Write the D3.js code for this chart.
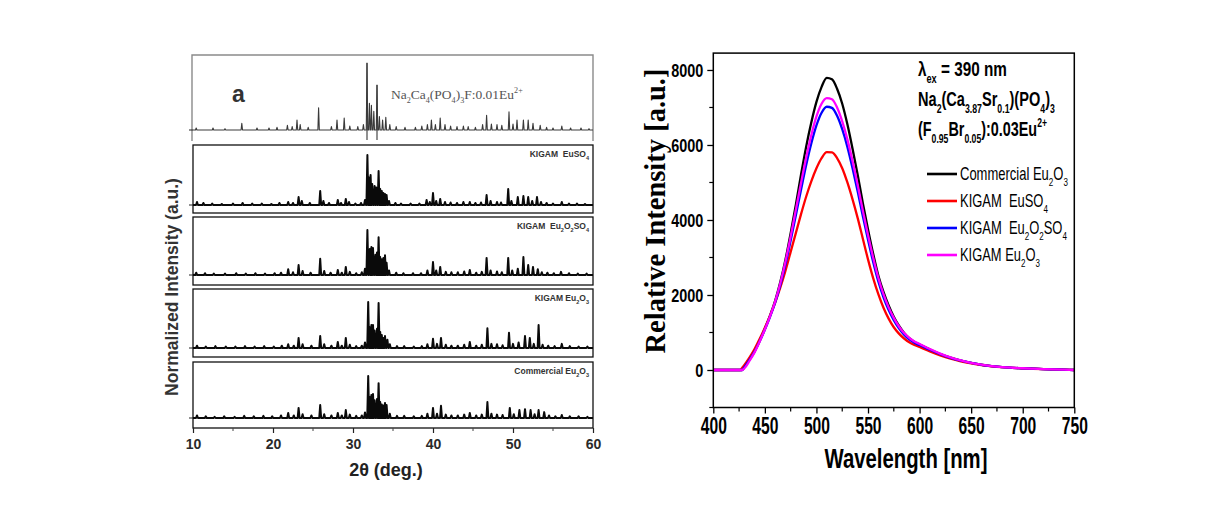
<!DOCTYPE html>
<html><head><meta charset="utf-8">
<script src="https://cdn.jsdelivr.net/npm/d3@7"></script>
<style>body{margin:0;background:#fff} svg{display:block} text{white-space:pre}</style>
</head><body>
<script>
// ---------------- DATA ----------------
// Left: XRD patterns, [2theta, relative height %]
const xrdTicks = [10, 20, 30, 40, 50, 60];
const xrdMinorTicks = [15, 25, 35, 45, 55];
const xrdLabels = ["Na_{2}Ca_{4}(PO_{4})_{3}F:0.01Eu^{2+}", "KIGAM  EuSO_{4}", "KIGAM  Eu_{2}O_{2}SO_{4}", "KIGAM Eu_{2}O_{3}", "Commercial Eu_{2}O_{3}"];
const xrdRefLines = [31.75, 33.0];
const xrdRef = [[10.4,3],[12.5,3],[14,2],[16.1,10],[18,3],[19.5,3],[20.5,4],[21.8,7],[22.4,5],[23.0,15],[23.4,8],[24.4,4],[25.7,33],[27.3,5],[28.0,15],[28.9,18],[29.6,6],[30.6,5],[31.3,8],[31.75,100],[32.05,40],[32.3,37],[32.6,28],[33.0,67],[33.3,20],[33.7,15],[34.1,19],[34.6,8],[35.4,5],[36.5,4],[37.8,4],[38.6,6],[39.3,8],[39.8,15],[40.3,8],[40.9,18],[41.5,8],[42.2,6],[43.0,5],[43.8,6],[44.4,5],[45.3,4],[46.2,8],[46.7,22],[47.3,9],[48.0,8],[48.6,7],[49.5,27],[50.0,9],[50.5,15],[51.3,15],[51.9,15],[52.5,10],[53.4,7],[54.2,4],[55.0,3],[56.1,6],[57.2,3],[58.5,3],[59.5,2]];
const xrdEuSO4 = [[10.5,6],[11.3,4],[12.4,3],[13.6,2],[15.0,3],[16.2,4],[17.4,3],[18.6,3],[19.8,2],[20.8,4],[21.9,6],[22.5,4],[23.2,16],[23.6,8],[24.6,4],[25.9,28],[26.3,8],[27.0,4],[28.1,10],[28.5,4],[29.1,12],[29.5,6],[30.3,3],[31.0,4],[31.5,10],[31.8,100],[32.0,55],[32.2,60],[32.4,42],[32.7,38],[32.9,35],[33.2,68],[33.4,32],[33.6,28],[33.8,24],[34.0,22],[34.2,20],[34.5,8],[35.3,4],[36.0,3],[37.2,3],[38.3,3],[39.2,10],[39.6,6],[40.0,24],[40.4,8],[40.9,12],[41.5,6],[42.2,5],[43.0,4],[43.8,6],[44.6,6],[45.3,4],[46.0,5],[46.7,20],[47.2,8],[48.0,6],[48.5,5],[49.4,32],[49.8,8],[50.6,16],[51.3,18],[51.9,16],[52.4,8],[53.0,16],[53.5,6],[54.2,4],[55.0,3],[56.1,6],[57.0,3],[58.0,3],[59.0,2]];
const xrdEu2O2SO4 = [[10.4,5],[11.5,4],[12.6,3],[14.0,3],[15.4,4],[16.6,3],[17.8,4],[19.0,3],[20.2,4],[21.0,5],[21.9,13],[22.5,6],[23.2,22],[23.7,9],[24.7,5],[25.9,36],[26.4,9],[27.2,5],[28.1,11],[28.6,5],[29.1,18],[29.6,7],[30.4,4],[31.1,6],[31.5,14],[31.8,100],[32.1,58],[32.3,62],[32.5,60],[32.8,45],[33.0,50],[33.2,84],[33.4,40],[33.6,35],[33.8,38],[34.0,44],[34.2,27],[34.5,10],[35.4,5],[36.3,4],[37.5,4],[38.5,4],[39.3,10],[40.0,29],[40.4,10],[40.9,18],[41.6,7],[42.3,6],[43.1,6],[43.9,8],[44.6,11],[45.4,5],[46.1,7],[46.7,38],[47.2,10],[48.0,8],[48.6,6],[49.4,38],[49.9,10],[50.6,14],[51.3,40],[51.9,22],[52.5,18],[53.1,13],[53.6,6],[54.3,5],[55.1,4],[56.0,7],[57.0,4],[58.1,3],[59.2,3]];
const xrdEu2O3 = [[10.5,5],[11.6,3],[12.8,4],[14.1,3],[15.3,3],[16.5,4],[17.7,3],[18.9,4],[20.1,3],[21.1,5],[21.9,8],[22.6,5],[23.2,22],[23.7,8],[24.8,5],[25.9,26],[26.4,8],[27.3,5],[28.1,13],[28.6,5],[29.1,22],[29.6,7],[30.4,4],[31.1,5],[31.5,12],[31.9,100],[32.1,45],[32.3,50],[32.5,50],[32.7,38],[33.0,42],[33.2,98],[33.4,35],[33.6,28],[33.8,22],[34.0,26],[34.3,18],[34.6,8],[35.5,4],[36.4,4],[37.6,3],[38.6,4],[39.3,8],[40.0,20],[40.5,9],[41.0,22],[41.6,7],[42.3,5],[43.1,5],[43.9,7],[44.6,13],[45.4,5],[46.1,7],[46.8,43],[47.3,9],[48.0,8],[48.7,6],[49.5,33],[50.0,9],[50.7,12],[51.5,26],[52.1,22],[52.6,9],[53.2,50],[53.7,7],[54.4,5],[55.2,4],[56.1,9],[57.1,4],[58.2,3],[59.3,3]];
const xrdCommercial = [[10.5,6],[11.6,4],[12.7,3],[13.9,4],[15.2,3],[16.4,5],[17.6,4],[18.8,5],[19.9,4],[21.0,6],[21.9,12],[22.6,6],[23.2,24],[23.7,9],[24.8,6],[25.9,31],[26.4,9],[27.3,6],[28.1,12],[28.6,6],[29.1,19],[29.6,8],[30.4,5],[31.1,6],[31.5,13],[31.9,100],[32.1,50],[32.3,55],[32.5,57],[32.7,42],[33.0,45],[33.2,83],[33.4,38],[33.6,32],[33.8,30],[34.0,36],[34.2,31],[34.6,10],[35.5,5],[36.4,5],[37.6,4],[38.6,5],[39.3,10],[40.0,24],[40.5,10],[41.0,29],[41.6,8],[42.3,6],[43.1,6],[43.9,8],[44.6,12],[45.4,6],[46.1,8],[46.8,38],[47.3,10],[48.0,8],[48.7,7],[49.6,24],[50.1,9],[50.8,19],[51.5,21],[52.2,19],[52.7,9],[53.2,19],[53.9,14],[54.5,6],[55.3,4],[56.1,7],[57.1,4],[58.2,4],[59.3,3]];
const xrdPatterns = [xrdRef, xrdEuSO4, xrdEu2O2SO4, xrdEu2O3, xrdCommercial];

// Right: photoluminescence spectra
const wavelength = [400,410,420,426,428,430,435,440,445,450,455,460,465,470,475,480,485,490,495,500,505,510,515,520,525,530,535,540,545,550,555,560,565,570,575,580,585,590,595,600,610,620,630,640,650,660,670,680,690,700,710,720,730,740,750];
const plCommercialEu2O3 = [0,0,0,0,0,80,280,500,780,1100,1450,1850,2350,2950,3650,4400,5200,5950,6600,7150,7550,7790,7750,7500,7100,6550,5900,5200,4450,3750,3100,2520,2080,1720,1420,1180,990,850,750,680,545,425,328,250,190,140,103,76,58,45,34,24,16,8,0];
const plKigamEuSO4 = [0,0,0,0,60,130,330,560,830,1130,1450,1800,2200,2650,3150,3650,4150,4620,5030,5380,5650,5810,5800,5650,5380,5000,4550,4050,3500,2950,2450,2020,1660,1370,1140,970,840,740,670,615,495,390,302,232,177,132,99,74,57,44,33,23,15,8,0];
const plKigamEu2O2SO4 = [0,0,0,0,0,70,270,490,770,1080,1420,1800,2270,2820,3450,4120,4800,5460,6040,6520,6860,7020,6990,6780,6420,5950,5380,4760,4100,3470,2880,2360,1940,1600,1330,1110,940,815,725,665,540,422,325,248,188,138,102,76,58,45,34,24,16,8,0];
const plKigamEu2O3 = [0,0,0,0,0,40,240,470,760,1080,1430,1830,2320,2900,3560,4270,4980,5660,6260,6760,7100,7250,7220,7000,6630,6150,5570,4930,4250,3600,3000,2460,2020,1670,1390,1160,985,855,760,695,560,438,335,256,193,142,105,78,60,46,35,25,16,8,0];
const plSeries = [plCommercialEu2O3, plKigamEuSO4, plKigamEu2O2SO4, plKigamEu2O3];
const plLegend = ["Commercial Eu_{2}O_{3}", "KIGAM  EuSO_{4}", "KIGAM  Eu_{2}O_{2}SO_{4}", "KIGAM Eu_{2}O_{3}"];
const plColors = ["#000000", "#ff0000", "#0000ff", "#ff00ff"];
const plXTicks = [400,450,500,550,600,650,700,750];
const plXMinor = [425,475,525,575,625,675,725];
const plYTicks = [0,2000,4000,6000,8000];
const plYMinor = [-1000,1000,3000,5000,7000];
const plNotes = ["λ_{ex} = 390 nm", "Na_{2}(Ca_{3.87}Sr_{0.1})(PO_{4})_{3}", "(F_{0.95}Br_{0.05}):0.03Eu^{2+}"];

// ---------------- HELPERS ----------------
function rich(sel, str, size, subScale) {
  const sc = subScale || 0.65;
  const parts = str.split(/(_\{[^}]*\}|\^\{[^}]*\})/).filter(s => s.length);
  let shift = 0;
  parts.forEach(p => {
    let t = p, target = 0, fs = size;
    if (p.startsWith('_{')) { t = p.slice(2, -1); target = size * 0.32; fs = size * sc; }
    else if (p.startsWith('^{')) { t = p.slice(2, -1); target = -size * 0.42; fs = size * sc; }
    sel.append('tspan').attr('dy', target - shift).attr('font-size', fs).text(t);
    shift = target;
  });
  return sel;
}
// condensed text: draws at (x,y) and squeezes horizontally to the given width
function narrowText(parent, x, y, str, opts) {
  const g = parent.append('g');
  const t = g.append('text').attr('x', 0).attr('y', 0)
    .attr('font-family', 'Liberation Sans, Arial, sans-serif')
    .attr('font-weight', opts.bold ? 'bold' : 'normal')
    .attr('font-size', opts.size).attr('fill', '#000')
    .attr('text-anchor', opts.anchor || 'start');
  rich(t, str, opts.size, opts.sub);
  const w = t.node().getBBox().width;
  const k = opts.width ? opts.width / w : (opts.k || 0.75);
  g.attr('transform', `translate(${x},${y}) scale(${k},1)`);
  return g;
}

const W = 1217, H = 522;
const svg = d3.select('body').append('svg').attr('width', W).attr('height', H);
svg.append('rect').attr('width', W).attr('height', H).attr('fill', '#fff');

// ---------------- LEFT PANEL ----------------
const lx = d3.scaleLinear().domain([10, 60]).range([193, 593]);
const panels = [
  {top: 55, bottom: 141, base: 130, peak: 63},
  {top: 145, bottom: 213, base: 205, peak: 155},
  {top: 217, bottom: 285, base: 275, peak: 230},
  {top: 289, bottom: 357, base: 348, peak: 302},
  {top: 362, bottom: 428, base: 418, peak: 376}
];
const L = svg.append('g');
panels.forEach((p, i) => {
  const halfW = i === 0 ? 0.09 : 0.12;
  const y = d3.scaleLinear().domain([0, 100]).range([p.base, p.peak]);
  const pts = [[10, 0]];
  xrdPatterns[i].slice().sort((a, b) => a[0] - b[0]).forEach(([x, h]) => {
    pts.push([x - halfW, 0], [x, h], [x + halfW, 0]);
  });
  pts.push([60, 0]);
  const line = d3.line().x(d => lx(d[0])).y(d => y(d[1]));
  if (i === 0) {
    L.append('path').attr('d', `M${lx(10)-1},${p.bottom}V${p.top}H${lx(60)}V${p.bottom}`)
      .attr('fill', 'none').attr('stroke', '#8a8a8a').attr('stroke-width', 1.4);
    xrdRefLines.forEach(r => {
      L.append('line').attr('x1', lx(r)).attr('x2', lx(r)).attr('y1', y(100) + (r > 32 ? 22 : 0)).attr('y2', p.bottom - 1)
        .attr('stroke', '#555').attr('stroke-width', 1.3);
    });
    L.append('path').attr('d', line(pts)).attr('fill', 'none').attr('stroke', '#3a3a3a').attr('stroke-width', 1.1).attr('stroke-linejoin', 'round');
    L.append('text').attr('x', 232).attr('y', 102).attr('font-family', 'Liberation Sans, Arial, sans-serif')
      .attr('font-weight', 'bold').attr('font-size', 23).attr('fill', '#333').text('a');
    rich(L.append('text').attr('x', 391).attr('y', 99).attr('font-family', 'Liberation Serif, Times New Roman, serif')
      .attr('font-size', 13.5).attr('fill', '#555'), xrdLabels[0], 13.5, 0.6);
  } else {
    L.append('rect').attr('x', lx(10)).attr('y', p.top).attr('width', lx(60) - lx(10)).attr('height', p.bottom - p.top)
      .attr('fill', 'none').attr('stroke', '#111').attr('stroke-width', 1.3);
    L.append('path').attr('d', line(pts)).attr('fill', 'none').attr('stroke', '#0a0a0a').attr('stroke-width', 2).attr('stroke-linejoin', 'round');
    rich(L.append('text').attr('x', 589).attr('y', p.top + 12).attr('text-anchor', 'end')
      .attr('font-family', 'Liberation Sans, Arial, sans-serif').attr('font-weight', 'bold')
      .attr('font-size', 8.5).attr('fill', '#333'), xrdLabels[i], 8.5);
  }
  L.append('line').attr('x1', lx(10) - 4).attr('x2', lx(10)).attr('y1', p.base).attr('y2', p.base).attr('stroke', '#222').attr('stroke-width', 1);
});
// left x axis
const lAxis = svg.append('g').attr('transform', `translate(0,428)`);
lAxis.call(d3.axisBottom(lx).tickValues(xrdTicks).tickSize(5).tickFormat(d3.format('d')));
lAxis.select('.domain').remove();
lAxis.selectAll('.tick line').attr('stroke', '#222').attr('stroke-width', 1.2);
lAxis.selectAll('.tick text').attr('font-family', 'Liberation Sans, Arial, sans-serif').attr('font-weight', 'bold')
  .attr('font-size', 14).attr('fill', '#2a2a2a').attr('dy', '0.95em');
lAxis.selectAll('.minor').data(xrdMinorTicks).enter().append('line').attr('x1', d => lx(d)).attr('x2', d => lx(d))
  .attr('y1', 0).attr('y2', 3).attr('stroke', '#444');
svg.append('text').attr('x', 386).attr('y', 476).attr('text-anchor', 'middle').attr('font-family', 'Liberation Sans, Arial, sans-serif')
  .attr('font-weight', 'bold').attr('font-size', 18).attr('fill', '#222').text('2θ (deg.)');
svg.append('text').attr('transform', 'translate(178,287) rotate(-90)').attr('text-anchor', 'middle')
  .attr('font-family', 'Liberation Sans, Arial, sans-serif').attr('font-weight', 'bold').attr('font-size', 17.5)
  .attr('fill', '#333').text('Normalized Intensity (a.u.)');

// ---------------- RIGHT PANEL ----------------
const rx = d3.scaleLinear().domain([400, 750]).range([713.3, 1074.3]);
const ry = d3.scaleLinear().domain([-1000, 8450]).range([407.5, 53.1]);
const R = svg.append('g');
const pl = d3.line().x((d, i) => rx(wavelength[i])).y(d => ry(d)).curve(d3.curveMonotoneX);
plSeries.forEach((s, i) => {
  R.append('path').attr('d', pl(s)).attr('fill', 'none').attr('stroke', plColors[i]).attr('stroke-width', 2.3);
});
R.append('rect').attr('x', rx(400)).attr('y', ry(8450)).attr('width', rx(750) - rx(400)).attr('height', ry(-1000) - ry(8450))
  .attr('fill', 'none').attr('stroke', '#000').attr('stroke-width', 1.5);
const xa = R.append('g').attr('transform', `translate(0,${ry(-1000)})`)
  .call(d3.axisBottom(rx).tickValues(plXTicks).tickSize(6).tickFormat(d3.format('d')));
xa.select('.domain').remove();
xa.selectAll('.tick line').attr('stroke', '#000').attr('stroke-width', 1.3);
xa.selectAll('.tick text').attr('font-family', 'Liberation Sans, Arial, sans-serif').attr('font-weight', 'bold')
  .attr('font-size', 23).attr('fill', '#000').attr('y', 0).attr('dy', 0)
  .attr('transform', 'translate(0,26) scale(0.68,1)');
xa.selectAll('.mn').data(plXMinor).enter().append('line').attr('x1', d => rx(d)).attr('x2', d => rx(d)).attr('y1', 0).attr('y2', 4).attr('stroke', '#000').attr('stroke-width', 1.2);
const ya = R.append('g').attr('transform', `translate(${rx(400)},0)`)
  .call(d3.axisLeft(ry).tickValues(plYTicks).tickSize(6).tickFormat(d3.format('d')));
ya.select('.domain').remove();
ya.selectAll('.tick line').attr('stroke', '#000').attr('stroke-width', 1.3);
ya.selectAll('.tick text').attr('font-family', 'Liberation Sans, Arial, sans-serif').attr('font-weight', 'bold')
  .attr('font-size', 18.5).attr('fill', '#000').attr('x', 0).attr('dy', '0.34em')
  .attr('transform', 'translate(-10,0) scale(0.78,1)');
ya.selectAll('.mn').data(plYMinor).enter().append('line').attr('y1', d => ry(d)).attr('y2', d => ry(d)).attr('x1', 0).attr('x2', -4).attr('stroke', '#000').attr('stroke-width', 1.2);
narrowText(svg, 906, 468, 'Wavelength [nm]', {bold: true, size: 28, anchor: 'middle', width: 163});
svg.append('text').attr('transform', 'translate(665,211) rotate(-90)').attr('text-anchor', 'middle')
  .attr('font-family', 'Liberation Serif, Times New Roman, serif').attr('font-weight', 'bold').attr('font-size', 28.5)
  .attr('fill', '#000').text('Relative Intensity [a.u.]');
// notes
const noteY = [76, 106, 136];
const noteW = [89, 137, 129];
plNotes.forEach((t, i) => {
  narrowText(svg, 918, noteY[i], t, {bold: true, size: 21, sub: 0.6, width: noteW[i]});
});
// legend
const legY = [180, 207, 234, 261];
const legW = [108, 88, 107, 80];
plLegend.forEach((t, i) => {
  svg.append('line').attr('x1', 927).attr('x2', 957).attr('y1', legY[i] - 6).attr('y2', legY[i] - 6)
    .attr('stroke', plColors[i]).attr('stroke-width', 2.6);
  narrowText(svg, 960, legY[i], t, {size: 17.5, sub: 0.62, width: legW[i]});
});
</script>
</body></html>
